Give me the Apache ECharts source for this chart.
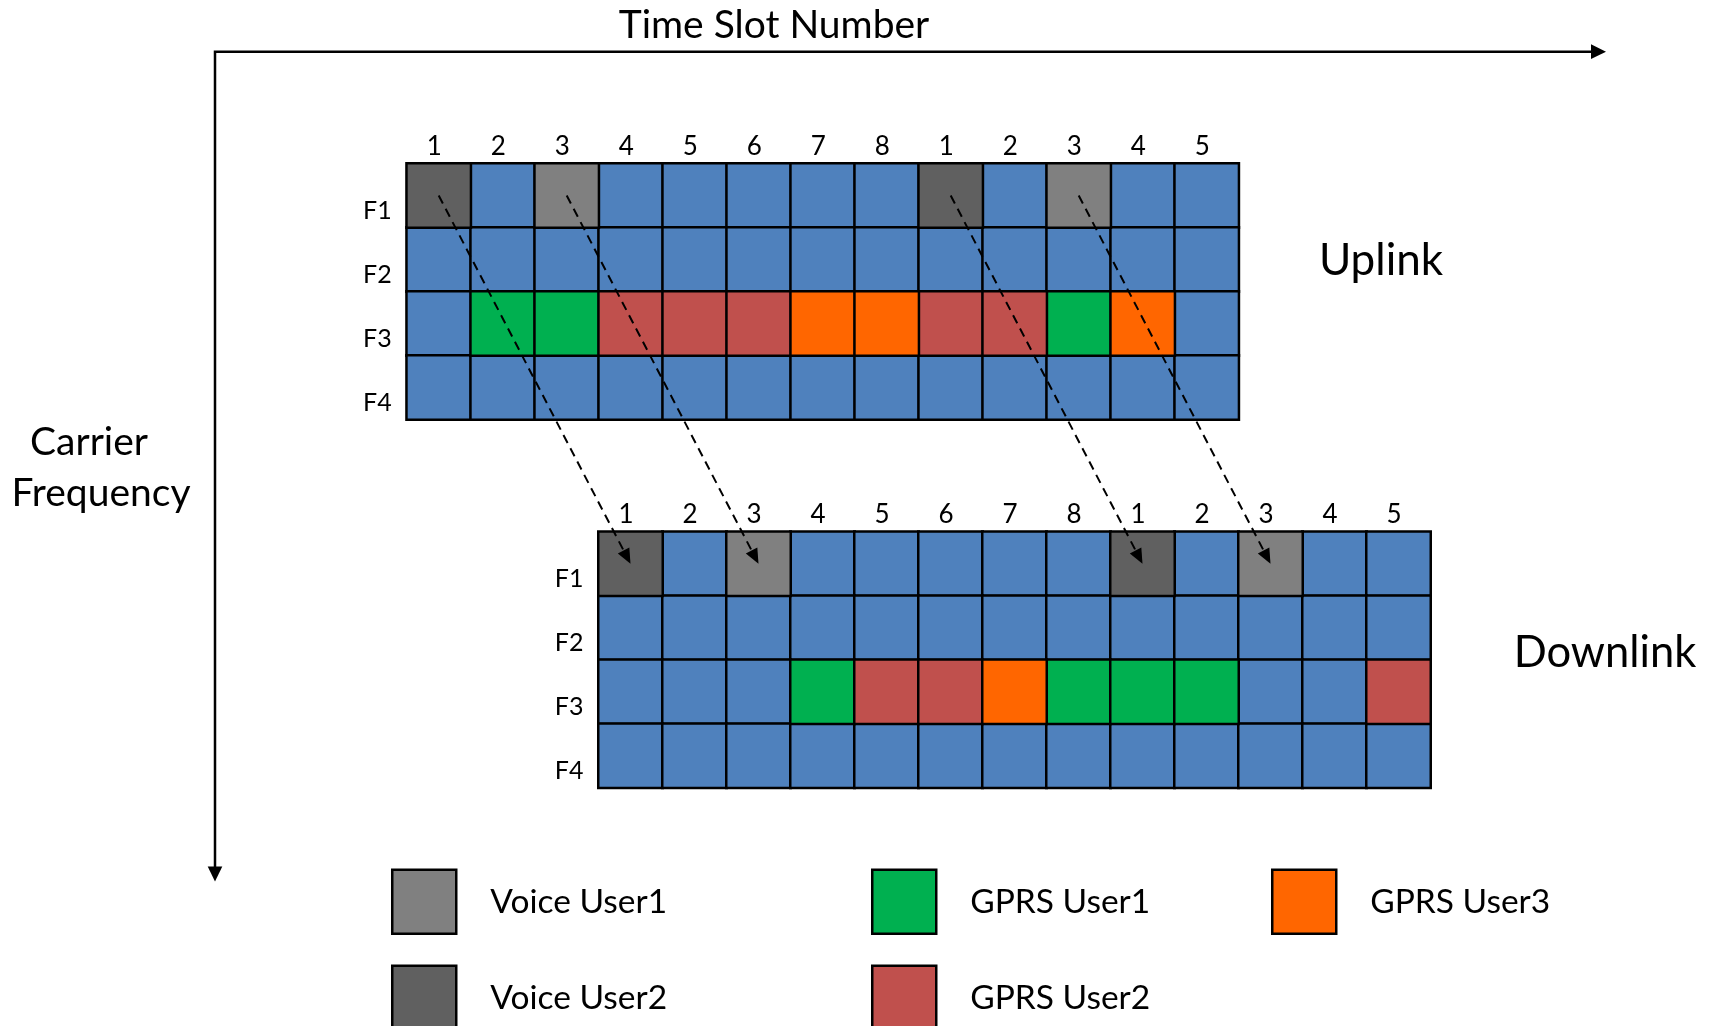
<!DOCTYPE html>
<html>
<head>
<meta charset="utf-8">
<script src="https://cdn.jsdelivr.net/npm/echarts@6/dist/echarts.min.js"></script>
<style>
html,body{margin:0;padding:0;background:#fff;}
#c{width:1715px;height:1026px;}
</style>
</head>
<body>
<div id="c"></div>
<script>
// ---------- DATA ----------
const slotLabels = ['1','2','3','4','5','6','7','8','1','2','3','4','5'];
const carrierLabels = ['F1','F2','F3','F4'];
const userNames = ['Voice User1','Voice User2','GPRS User1','GPRS User2','GPRS User3'];
// cell codes: 0 = free, 1 = Voice User1, 2 = Voice User2, 3 = GPRS User1, 4 = GPRS User2, 5 = GPRS User3
const uplinkF1 = [2,0,1,0,0,0,0,0,2,0,1,0,0];
const uplinkF2 = [0,0,0,0,0,0,0,0,0,0,0,0,0];
const uplinkF3 = [0,3,3,4,4,4,5,5,4,4,3,5,0];
const uplinkF4 = [0,0,0,0,0,0,0,0,0,0,0,0,0];
const downlinkF1 = [2,0,1,0,0,0,0,0,2,0,1,0,0];
const downlinkF2 = [0,0,0,0,0,0,0,0,0,0,0,0,0];
const downlinkF3 = [0,0,0,3,4,4,5,3,3,3,0,0,4];
const downlinkF4 = [0,0,0,0,0,0,0,0,0,0,0,0,0];

// ---------- STYLE ----------
const FONT = 'Lato';
const seriesColors = {
  'Free': '#4F81BD',
  'Voice User1': '#808080',
  'Voice User2': '#606060',
  'GPRS User1': '#00B050',
  'GPRS User2': '#C0504D',
  'GPRS User3': '#FF6600'
};

const links = [
  [uplinkF1, uplinkF2, uplinkF3, uplinkF4],
  [downlinkF1, downlinkF2, downlinkF3, downlinkF4]
];
const allNames = ['Free'].concat(userNames);

const series = [];
links.forEach((rows, g) => {
  allNames.forEach((name, code) => {
    const data = [];
    rows.forEach((row, r) => row.forEach((v, c) => { if (v === code) data.push([c, r, code]); }));
    series.push({
      type: 'heatmap', name: name, xAxisIndex: g, yAxisIndex: g, data: data,
      itemStyle: { color: seriesColors[name], borderColor: '#000', borderWidth: 2.5 },
      emphasis: { disabled: true }, silent: true
    });
  });
});

function xAx(g) {
  return {
    gridIndex: g, type: 'category', data: slotLabels, position: 'top',
    axisLine: { show: false }, axisTick: { show: false }, splitLine: { show: false },
    axisLabel: { interval: 0, fontFamily: FONT, fontSize: 26, color: '#000',
      margin: 17, verticalAlign: 'middle', padding: [0, 9, 0, 0] }
  };
}
function yAx(g) {
  return {
    gridIndex: g, type: 'category', data: carrierLabels, inverse: true,
    axisLine: { show: false }, axisTick: { show: false }, splitLine: { show: false },
    axisLabel: { interval: 0, fontFamily: FONT, fontSize: 25, color: '#000',
      margin: 15, verticalAlign: 'top', lineHeight: 30 }
  };
}
function legendAt(left, top, name) {
  return {
    left: left, top: top, orient: 'vertical', padding: 0,
    itemWidth: 64, itemHeight: 64, icon: 'rect', selectedMode: false,
    data: [name],
    itemStyle: { borderColor: '#000', borderWidth: 2.5 },
    textStyle: { fontFamily: FONT, fontSize: 33.5, color: '#000', padding: [0, 0, 0, 29] }
  };
}

const chart = echarts.init(document.getElementById('c'), null, { renderer: 'canvas' });
chart.setOption({
  animation: false,
  backgroundColor: '#fff',
  grid: [
    { left: 406.7, top: 163.5, width: 832, height: 256, outerBoundsMode: 'none', containLabel: false },
    { left: 598.5, top: 531.7, width: 832, height: 256, outerBoundsMode: 'none', containLabel: false }
  ],
  xAxis: [xAx(0), xAx(1)],
  yAxis: [yAx(0), yAx(1)],
  legend: [
    legendAt(391, 868.5, 'Voice User1'),
    legendAt(391, 964.5, 'Voice User2'),
    legendAt(871, 868.5, 'GPRS User1'),
    legendAt(871, 964.5, 'GPRS User2'),
    legendAt(1271, 868.5, 'GPRS User3')
  ],
  series: series
});

// ---------- annotations ----------
const graphics = [];
const txt = (text, x, y, size) => ({
  type: 'text', x: x, y: y, z: 50,
  style: { text: text, fontFamily: FONT, fontSize: size, fill: '#000', align: 'center', verticalAlign: 'middle' }
});
graphics.push(txt('Time Slot Number', 774, 25, 39));
graphics.push(txt('Carrier', 89, 442, 39));
graphics.push(txt('Frequency', 101, 493, 39));
graphics.push(txt('Uplink', 1381, 260.5, 44));
graphics.push(txt('Downlink', 1605, 653, 43.5));

// frame axes with arrows
graphics.push({ type: 'polyline', z: 50, shape: { points: [[215, 867], [215, 51.7], [1592, 51.7]] },
  style: { stroke: '#000', lineWidth: 2.5, fill: null } });
graphics.push({ type: 'polygon', z: 50, shape: { points: [[1591, 44.3], [1606, 51.7], [1591, 59.1]] }, style: { fill: '#000' } });
graphics.push({ type: 'polygon', z: 50, shape: { points: [[207.7, 866.5], [215, 881.6], [222.3, 866.5]] }, style: { fill: '#000' } });

// dashed arrows: uplink voice slot -> same slot on downlink
links[0].forEach((row, r) => row.forEach((v, c) => {
  if (v === 1 || v === 2) {
    const p0 = chart.convertToPixel({ gridIndex: 0 }, [c, r]);
    const p1 = chart.convertToPixel({ gridIndex: 1 }, [c, r]);
    const dx = p1[0] - p0[0], dy = p1[1] - p0[1];
    const L = Math.sqrt(dx * dx + dy * dy);
    const ux = dx / L, uy = dy / L;
    const head = 15, hw = 6.5;
    const bx = p1[0] - ux * head, by = p1[1] - uy * head;
    graphics.push({ type: 'line', z: 60, shape: { x1: p0[0], y1: p0[1], x2: bx, y2: by },
      style: { stroke: '#000', lineWidth: 2, lineDash: [9, 6] } });
    graphics.push({ type: 'polygon', z: 60, shape: { points: [
      [p1[0], p1[1]], [bx - uy * hw, by + ux * hw], [bx + uy * hw, by - ux * hw]] },
      style: { fill: '#000' } });
  }
}));
chart.setOption({ graphic: graphics });
</script>
</body>
</html>
